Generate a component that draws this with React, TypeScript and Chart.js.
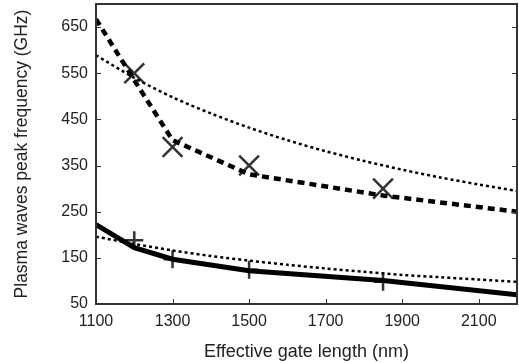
import React, { useEffect, useRef } from "react";
import { Chart, registerables } from "chart.js";

Chart.register(...registerables);

const xTicks = [1100, 1300, 1500, 1700, 1900, 2100];
const yTicks = [50, 150, 250, 350, 450, 550, 650];

const fitX = [1100, 1200, 1300, 1400, 1500, 1600, 1700, 1800, 1900, 2000, 2100, 2200];
const upperFit = [589, 540, 498, 463, 432, 405, 381, 360, 341, 324, 309, 295];
const lowerFit = [196, 180, 166, 154, 144, 135, 127, 120, 113, 108, 103, 98];

const modelX = [1100, 1200, 1300, 1500, 1850, 2200];
const upperModel = [667, 535, 405, 331, 285, 250];
const lowerModel = [222, 172, 147, 122, 101, 70];

const measX = [1200, 1300, 1500, 1850];
const upperMeas = [550, 390, 350, 300];
const lowerMeas = [188, 147, 124, 98];

const pts = (xs: number[], ys: number[]) => xs.map((x, i) => ({ x, y: ys[i] }));

const FONT = "'Liberation Sans', Arial, sans-serif";

const framePlugin = {
  id: "frame",
  afterDatasetsDraw(chart: any) {
    const { ctx, chartArea: a, scales } = chart;
    ctx.save();
    ctx.strokeStyle = "#333";
    ctx.lineWidth = 1;
    ctx.beginPath();
    for (const v of yTicks) {
      const py = Math.round(scales.y.getPixelForValue(v)) + 0.5;
      ctx.moveTo(a.left, py);
      ctx.lineTo(a.left + 5, py);
      ctx.moveTo(a.right, py);
      ctx.lineTo(a.right - 5, py);
    }
    for (const v of xTicks) {
      const px = Math.round(scales.x.getPixelForValue(v)) + 0.5;
      ctx.moveTo(px, a.bottom);
      ctx.lineTo(px, a.bottom - 5);
    }
    ctx.stroke();
    ctx.lineWidth = 2;
    ctx.strokeRect(a.left, a.top, a.right - a.left, a.bottom - a.top);
    ctx.restore();
  },
};

export default function App() {
  const ref = useRef<HTMLCanvasElement>(null);
  useEffect(() => {
    const chart = new Chart(ref.current!, {
      type: "scatter",
      data: {
        datasets: [
          {
            data: pts(fitX, upperFit),
            showLine: true,
            borderColor: "#000",
            borderWidth: 2.5,
            borderDash: [3, 3],
            pointRadius: 0,
            tension: 0.3,
          },
          {
            data: pts(modelX, upperModel),
            showLine: true,
            borderColor: "#000",
            borderWidth: 4.5,
            borderDash: [7, 5],
            pointRadius: 0,
          },
          {
            data: pts(fitX, lowerFit),
            showLine: true,
            borderColor: "#000",
            borderWidth: 2.5,
            borderDash: [3, 3],
            pointRadius: 0,
            tension: 0.3,
          },
          {
            data: pts(modelX, lowerModel),
            showLine: true,
            borderColor: "#000",
            borderWidth: 5,
            pointRadius: 0,
          },
          {
            data: pts(measX, upperMeas),
            showLine: false,
            pointStyle: "crossRot",
            pointRadius: 14,
            pointBorderWidth: 2.5,
            borderColor: "#333",
            backgroundColor: "#333",
          },
          {
            data: pts(measX, lowerMeas),
            showLine: false,
            pointStyle: "cross",
            pointRadius: 9,
            pointBorderWidth: 2.5,
            borderColor: "#333",
            backgroundColor: "#333",
          },
        ],
      },
      options: {
        animation: false,
        responsive: false,
        layout: { autoPadding: false, padding: { top: 4, right: 2, left: 0, bottom: 0 } },
        plugins: { legend: { display: false }, tooltip: { enabled: false } },
        scales: {
          x: {
            type: "linear",
            min: 1100,
            max: 2200,
            afterBuildTicks: (s: any) => {
              s.ticks = xTicks.map((v) => ({ value: v }));
            },
            afterFit: (s: any) => {
              s.height = 59;
              s.paddingLeft = 0;
              s.paddingRight = 0;
            },
            grid: { display: false, drawTicks: false },
            border: { display: false },
            ticks: {
              color: "#222",
              font: { family: FONT, size: 16 },
              padding: 8,
              maxRotation: 0,
              autoSkip: false,
              callback: (v: any) => String(v),
            },
            title: {
              display: true,
              text: "Effective gate length (nm)",
              color: "#222",
              font: { family: FONT, size: 18 },
              padding: { top: 3, bottom: 0 },
            },
          },
          y: {
            type: "linear",
            min: 50,
            max: 700,
            afterBuildTicks: (s: any) => {
              s.ticks = yTicks.map((v) => ({ value: v }));
            },
            afterFit: (s: any) => {
              s.width = 96;
              s.paddingTop = 0;
              s.paddingBottom = 0;
            },
            grid: { display: false, drawTicks: false },
            border: { display: false },
            ticks: {
              color: "#222",
              font: { family: FONT, size: 16 },
              padding: 8,
              autoSkip: false,
              callback: (v: any) => String(v),
            },
            title: {
              display: true,
              text: "Plasma waves peak frequency (GHz)",
              color: "#222",
              font: { family: FONT, size: 17.5 },
              padding: { top: 12, bottom: 0 },
            },
          },
        },
      },
      plugins: [framePlugin],
    });
    return () => chart.destroy();
  }, []);
  return (
    <div style={{ position: "fixed", left: 0, top: 0, width: 519, height: 363, background: "#fff" }}>
      <canvas ref={ref} width={519} height={363} />
    </div>
  );
}
